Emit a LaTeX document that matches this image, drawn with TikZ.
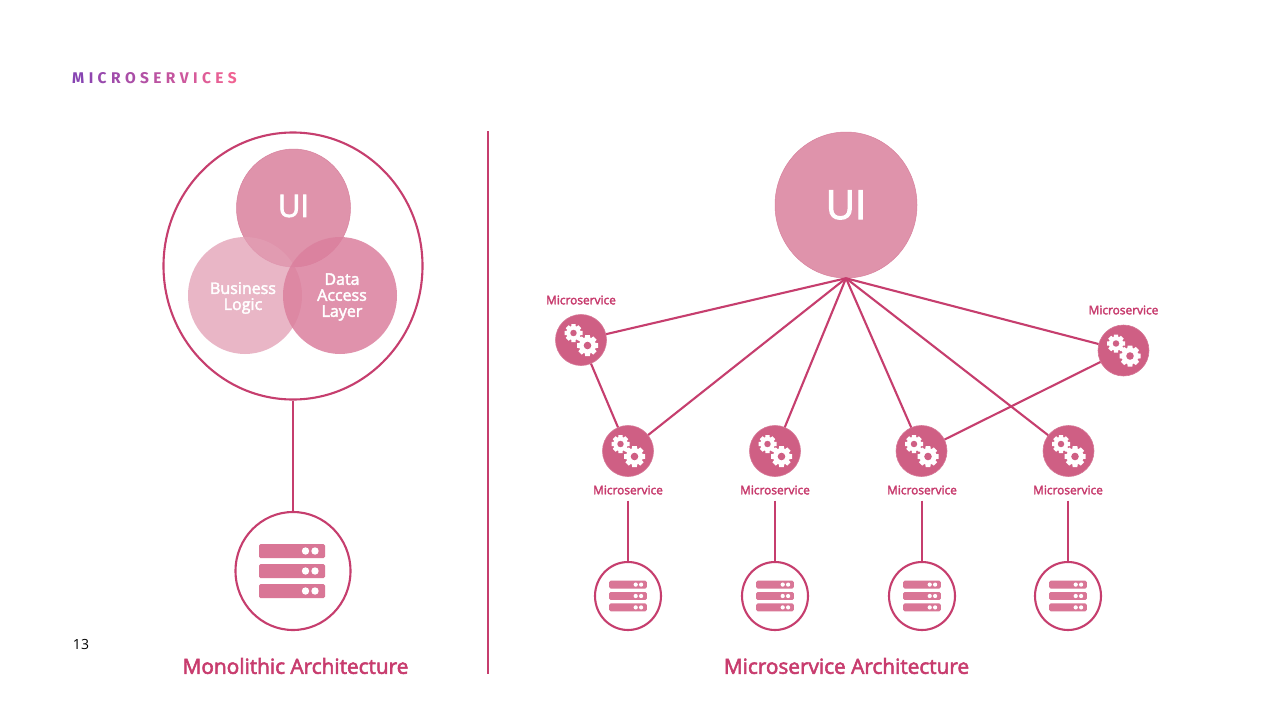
\documentclass[tikz,border=0pt]{standalone}
\usepackage{fontspec}
\setmainfont{Open Sans}
\newfontfamily\titlefont{Fira Sans}
\newfontfamily\semifont{Open Sans}[FakeBold = 2.6]
\usetikzlibrary{shapes.geometric}
\definecolor{linepink}{RGB}{198,62,110}
\definecolor{textpink}{RGB}{200,60,110}
\definecolor{uipink}{RGB}{223,147,171}
\definecolor{uiedge}{RGB}{216,130,158}
\definecolor{logicpink}{RGB}{226,158,180}
\definecolor{datapink}{RGB}{219,128,158}
\definecolor{servicepink}{RGB}{207,95,132}
\definecolor{barpink}{RGB}{217,118,150}
\definecolor{titlestart}{RGB}{135,68,178}
\definecolor{titleend}{RGB}{240,98,146}
\newcommand{\gearicon}[3]{%
    \begin{scope}[shift = {(#1,#2)}, scale = #3]
        \foreach \a in {0,45,...,315} {
            \fill[white, rotate = \a] (-0.3,0) -- (-0.23,1) -- (0.23,1) -- (0.3,0) -- cycle;
        }
        \fill[white] (0,0) circle[radius = 0.8];
        \fill[servicepink] (0,0) circle[radius = 0.36];
    \end{scope}
}
\newcommand{\gearpair}[2]{%
    \begin{scope}[shift = {(#1,#2)}]
        \gearicon{-7.5}{-7}{9}
        \gearicon{6.5}{5.5}{10.5}
    \end{scope}
}
\newcommand{\rackbar}[1]{%
    \fill[barpink, rounded corners = 1.5pt] (-33,#1-7) rectangle (33,#1+7);
    \fill[white] (13.5,#1) circle[radius = 3.7];
    \fill[white] (23,#1) circle[radius = 3.7];
}
\newcommand{\rackicon}[3]{%
    \begin{scope}[shift = {(#1,#2)}, scale = #3]
        \rackbar{-20}
        \rackbar{0}
        \rackbar{20}
    \end{scope}
}
\tikzset{
    link/.style = {draw = linepink, line width = 2.1pt},
    blob/.style = {ellipse, inner sep = 0pt},
    blobtext/.style = {text = white, align = center, inner sep = 0pt, font = \fontsize{16}{16}\selectfont\semifont},
    service/.style = {circle, fill = servicepink, draw = servicepink!85!white, line width = 0.6pt, minimum size = 51pt, inner sep = 0pt},
    servicename/.style = {text = textpink, inner sep = 6pt, font = \fontsize{11.9}{12}\selectfont\semifont},
    store/.style = {ellipse, draw = linepink, fill = white, line width = 2.1pt, inner sep = 0pt},
    heading/.style = {text = textpink, font = \fontsize{20.8}{24}\selectfont\semifont}
}
\begin{document}
\begin{tikzpicture}[x = 1pt, y = -1pt]
    \useasboundingbox (0,0) rectangle (1280,720);
    \fill[white] (0,0) rectangle (1280,720);

    \node[anchor = west, inner sep = 0pt, font = \titlefont\fontsize{15.5}{16}\selectfont\bfseries] (title) at (72,78) {%
        \foreach \ch [count = \i] in {M,I,C,R,O,S,E,R,V,I,C,E,S} {%
            \pgfmathsetmacro{\mixval}{(\i-1)*100/12}%
            \textcolor{titleend!\mixval!titlestart}{\ch}\hspace{4.4pt}%
        }%
    };
    \node[anchor = center, inner sep = 0pt, font = \fontsize{14}{16}\selectfont] (pagenum) at (81,644) {13};

    \coordinate (divtop) at (488,131);
    \coordinate (divbottom) at (488,674);
    \draw[link] (divtop) -- (divbottom);

    % monolith
    \node[ellipse, draw = linepink, line width = 2.1pt, minimum width = 259pt, minimum height = 267pt, inner sep = 0pt] (mono) at (293,266) {};
    \node[blob, fill = uipink, draw = uiedge, line width = 0.5pt, minimum width = 114pt, minimum height = 118pt] (monoui) at (293.5,208) {};
    \node[blob, fill = logicpink, fill opacity = 0.75, minimum width = 114pt, minimum height = 117pt] (logic) at (245,295.5) {};
    \node[blob, fill = datapink, fill opacity = 0.85, minimum width = 114pt, minimum height = 117pt] (data) at (340,295.5) {};
    \node[blobtext, font = \fontsize{31}{31}\selectfont\semifont] (monouitext) at (293.5,206) {UI};
    \node[blobtext] (logictext) at (243,298) {Business\\Logic};
    \node[blobtext] (datatext) at (342,297) {Data\\Access\\Layer};
    \node[store, minimum width = 115pt, minimum height = 118pt] (monodb) at (293,571) {};
    \rackicon{292}{571}{1}
    \draw[link] (mono) -- (monodb);
    \node[heading] (monohead) at (295.5,666) {Monolithic Architecture};

    % services
    \node[blob, fill = uipink, draw = uiedge, line width = 0.5pt, minimum width = 142pt, minimum height = 146pt] (ui) at (846,205) {};
    \node[blobtext, font = \fontsize{40}{40}\selectfont\semifont] (uitext) at (846,205) {UI};
    \node[service] (ms1) at (581,340) {};
    \node[service] (ms2) at (628,451) {};
    \node[service] (ms3) at (775,451) {};
    \node[service] (ms4) at (921.5,451) {};
    \node[service] (ms5) at (1068.5,451) {};
    \node[service] (ms6) at (1123.5,350.5) {};
    \gearpair{581}{340}
    \gearpair{628}{451}
    \gearpair{775}{451}
    \gearpair{921.5}{451}
    \gearpair{1068.5}{451}
    \gearpair{1123.5}{350.5}
    \draw[link] (ui.south) -- (ms1);
    \draw[link] (ui.south) -- (ms2);
    \draw[link] (ui.south) -- (ms3);
    \draw[link] (ui.south) -- (ms4);
    \draw[link] (ui.south) -- (ms5);
    \draw[link] (ui.south) -- (ms6);
    \draw[link] (ms1) -- (ms2);
    \draw[link] (ms6) -- (ms4);

    \node[servicename] (name1) at (581,300) {Microservice};
    \node[servicename] (name2) at (628,490) {Microservice};
    \node[servicename] (name3) at (775,490) {Microservice};
    \node[servicename] (name4) at (922,490) {Microservice};
    \node[servicename] (name5) at (1068,490) {Microservice};
    \node[servicename] (name6) at (1123.5,310) {Microservice};

    \node[store, minimum width = 66pt, minimum height = 68pt] (db2) at (628,596) {};
    \node[store, minimum width = 66pt, minimum height = 68pt] (db3) at (775,596) {};
    \node[store, minimum width = 66pt, minimum height = 68pt] (db4) at (922,596) {};
    \node[store, minimum width = 66pt, minimum height = 68pt] (db5) at (1068,596) {};
    \rackicon{628}{596}{0.57}
    \rackicon{775}{596}{0.57}
    \rackicon{922}{596}{0.57}
    \rackicon{1068}{596}{0.57}
    \draw[link] (name2) -- (db2);
    \draw[link] (name3) -- (db3);
    \draw[link] (name4) -- (db4);
    \draw[link] (name5) -- (db5);

    \node[heading] (servicehead) at (846.5,666) {Microservice Architecture};
\end{tikzpicture}
\end{document}
